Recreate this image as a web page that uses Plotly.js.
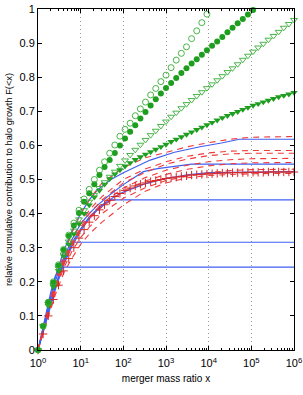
<!DOCTYPE html>
<html><head><meta charset="utf-8">
<script src="https://cdn.plot.ly/plotly-3.0.1.min.js"></script>
<style>html,body{margin:0;padding:0;background:#fff;}#chart{width:303px;height:395px;}</style>
</head><body><div id="chart"></div>
<script>
// marker x positions (merger mass ratio)
const xMarks = [1, 1.318, 1.738, 2.291, 3.020, 3.981, 5.248, 6.918, 9.120, 12.02, 15.85, 20.89, 27.54, 36.31, 47.86, 63.10, 83.18, 109.6, 144.5, 190.5, 251.2, 331.1, 436.5, 575.4, 758.6, 1000, 1318, 1738, 2291, 3020, 3981, 5248, 6918, 9120, 12023, 15849, 20893, 27542, 36308, 47863, 63096, 83176, 109648, 144544, 190546, 251189, 331131, 436516, 575440, 758578, 1000000];

const openCircles = [0, .07, .14, .20, .25, .295, .337, .372, .41, .443, .471, .50, .527, .552, .577, .601, .627, .647, .665, .687, .707, .727, .748, .767, .787, .806, .828, .85, .87, .889, .913, .936, .96, .985];
const filledCircles = [0, .07, .14, .198, .248, .293, .334, .365, .402, .435, .46, .486, .513, .537, .557, .578, .60, .62, .64, .659, .679, .698, .717, .735, .752, .768, .783, .798, .812, .826, .84, .853, .866, .879, .892, .905, .918, .932, .945, .958, .971, .984, .997];
const openTriangles = [0, .07, .135, .19, .24, .28, .318, .35, .383, .41, .435, .455, .475, .492, .508, .523, .54, .556, .572, .587, .602, .616, .63, .643, .657, .67, .684, .696, .709, .721, .733, .745, .756, .768, .779, .791, .803, .815, .826, .838, .851, .863, .875, .887, .898, .91, .921, .933, .945, .956, .968];
const filledTriangles = [0, .07, .13, .185, .232, .275, .31, .34, .37, .40, .425, .448, .468, .486, .502, .516, .528, .539, .549, .558, .566, .574, .581, .588, .596, .603, .611, .618, .625, .632, .639, .646, .653, .66, .667, .674, .681, .687, .693, .699, .705, .711, .717, .722, .727, .732, .737, .742, .746, .75, .755];
const crosses = [0, .047, .10, .148, .19, .232, .268, .30, .328, .353, .375, .394, .411, .426, .439, .45, .459, .468, .475, .481, .486, .49, .494, .497, .50, .503, .505, .507, .509, .511, .513, .514, .515, .516, .517, .518, .519, .519, .52, .52, .52, .521, .521, .521, .521, .522, .522, .522, .522, .522, .522];

// red dashed curves
const redX = [1, 1.318, 1.778, 2.512, 3.981, 6.310, 10, 15.85, 31.62, 100, 316.2, 1000, 3162, 10000, 31623, 100000, 1000000];
const red1 = [0, .06, .13, .2, .28, .345, .40, .44, .49, .535, .563, .58, .596, .608, .618, .624, .626];
const red2 = [0, .055, .125, .19, .265, .325, .37, .41, .45, .50, .53, .552, .568, .578, .583, .585, .585];
const red3 = [0, .055, .12, .185, .26, .315, .36, .40, .44, .49, .52, .545, .56, .57, .575, .577, .577];
const red4 = [0, .05, .115, .18, .255, .31, .355, .39, .43, .475, .505, .527, .542, .552, .558, .561, .562];
const red5 = [0, .05, .11, .175, .25, .305, .35, .385, .42, .465, .495, .515, .53, .54, .546, .549, .55];
const red6 = [0, .05, .11, .17, .24, .29, .33, .36, .40, .445, .475, .497, .51, .52, .526, .529, .53];
const red7 = [0, .045, .10, .16, .225, .27, .31, .34, .375, .425, .465, .49, .505, .512, .515, .517, .518];

// blue solid curves
const blue1X = [1, 1.318, 1.778, 2.512, 3.981, 6.310, 10, 15.85, 25.12, 50.12, 100, 426.6, 1585, 6310, 19953, 52481, 1000000];
const blue1 = [0, .065, .135, .21, .29, .35, .40, .44, .47, .499, .52, .557, .58, .596, .607, .618, .618];
const blue2X = [1, 1.318, 1.778, 2.512, 3.981, 6.310, 10, 15.85, 25.12, 50.12, 100, 295.1, 631, 3981, 1000000];
const blue2 = [0, .06, .13, .2, .27, .325, .37, .40, .425, .457, .485, .523, .532, .545, .545];
const blue3X = [1, 1.318, 1.778, 2.512, 3.981, 6.310, 10, 15.85, 31.62, 63.10, 100, 316.2, 1000, 3162, 10000, 1000000];
const blue3 = [0, .055, .12, .185, .26, .315, .355, .39, .425, .45, .463, .487, .503, .514, .52, .523];
const blue4X = [1, 1.318, 1.778, 2.512, 3.981, 6.310, 10, 15.85, 25.12, 50.12, 1000000];
const blue4 = [0, .05, .11, .175, .25, .305, .35, .385, .412, .44, .44];
const blue5X = [1, 1.318, 1.778, 2.512, 3.548, 5.012, 6.918, 1000000];
const blue5 = [0, .05, .11, .18, .24, .285, .316, .316];
const blue6X = [1, 1.259, 1.585, 1.995, 2.512, 3.162, 1000000];
const blue6 = [0, .06, .12, .17, .215, .243, .243];

const xTickVals = [1, 10, 100, 1000, 10000, 100000, 1000000];
const xTickText = ['10<sup>0</sup>', '10<sup>1</sup>', '10<sup>2</sup>', '10<sup>3</sup>', '10<sup>4</sup>', '10<sup>5</sup>', '10<sup>6</sup>'];
const yTickVals = [0, .1, .2, .3, .4, .5, .6, .7, .8, .9, 1];
const yTickText = ['0', '0.1', '0.2', '0.3', '0.4', '0.5', '0.6', '0.7', '0.8', '0.9', '1'];

const BLUE = '#3f5ff2', RED = '#f03a3a', GREEN = '#1e9e1e', LGREEN = '#34ad34';
const traces = [];
[[blue6X, blue6], [blue5X, blue5], [blue4X, blue4], [blue3X, blue3], [blue2X, blue2], [blue1X, blue1]].forEach(([xs, ys]) => {
  traces.push({x: xs, y: ys, mode: 'lines', line: {color: BLUE, width: 1.2}, hoverinfo: 'skip'});
});
[red1, red2, red3, red4, red5, red6, red7].forEach(ys => {
  traces.push({x: redX, y: ys, mode: 'lines', line: {color: RED, width: 1.1, dash: '6px,5px'}, hoverinfo: 'skip'});
});
traces.push({x: xMarks.slice(0, crosses.length), y: crosses, mode: 'markers', cliponaxis: false,
  marker: {symbol: 'cross-thin-open', size: 6, line: {color: '#000', width: 1}}});
traces.push({x: xMarks.slice(0, filledTriangles.length), y: filledTriangles, mode: 'markers', cliponaxis: false,
  marker: {symbol: 'triangle-down', size: 6.5, color: GREEN, line: {width: 0}}});
traces.push({x: xMarks.slice(0, openTriangles.length), y: openTriangles, mode: 'markers', cliponaxis: false,
  marker: {symbol: 'triangle-down-open', size: 6, color: LGREEN, line: {width: 0.9, color: LGREEN}}});
traces.push({x: xMarks.slice(0, filledCircles.length), y: filledCircles, mode: 'markers', cliponaxis: false,
  marker: {symbol: 'circle', size: 6, color: GREEN, line: {width: 0}}});
traces.push({x: xMarks.slice(0, openCircles.length), y: openCircles, mode: 'markers', cliponaxis: false,
  marker: {symbol: 'circle-open', size: 6, color: LGREEN, line: {width: 0.9, color: LGREEN}}});

const minorVals = [];
for (let d = 0; d < 6; d++) for (let m = 2; m <= 9; m++) minorVals.push(m * Math.pow(10, d));

const layout = {
  width: 303, height: 395,
  margin: {l: 38, r: 9, t: 9, b: 45},
  paper_bgcolor: '#fff', plot_bgcolor: '#fff',
  showlegend: false,
  font: {family: 'Liberation Sans, Arial, sans-serif', color: '#000'},
  xaxis: {
    type: 'log', range: [0, 6], tickmode: 'array', tickvals: xTickVals, ticktext: xTickText,
    ticks: 'inside', ticklen: 4, tickcolor: '#000', tickwidth: 1,
    showgrid: true, gridcolor: '#9a9a9a', griddash: '1px,3px', gridwidth: 1,
    minor: {tickmode: 'array', tickvals: minorVals, ticks: 'inside', ticklen: 2, tickcolor: '#000', showgrid: false},
    showline: true, linecolor: '#000', linewidth: 1, mirror: 'ticks', zeroline: false,
    tickfont: {size: 11}, ticklabelstandoff: 3,
    title: {text: 'merger mass ratio x', font: {size: 10}, standoff: 6}
  },
  yaxis: {
    range: [0, 1], tickmode: 'array', tickvals: yTickVals, ticktext: yTickText,
    ticks: 'inside', ticklen: 4, tickcolor: '#000', tickwidth: 1,
    showgrid: false, zeroline: false,
    showline: true, linecolor: '#000', linewidth: 1, mirror: 'ticks',
    tickfont: {size: 11},
    title: {text: 'relative cumulative contribution to halo growth F(<x)', font: {size: 9.3}, standoff: 5}
  }
};
Plotly.newPlot('chart', traces, layout, {staticPlot: true, displayModeBar: false});
</script></body></html>
